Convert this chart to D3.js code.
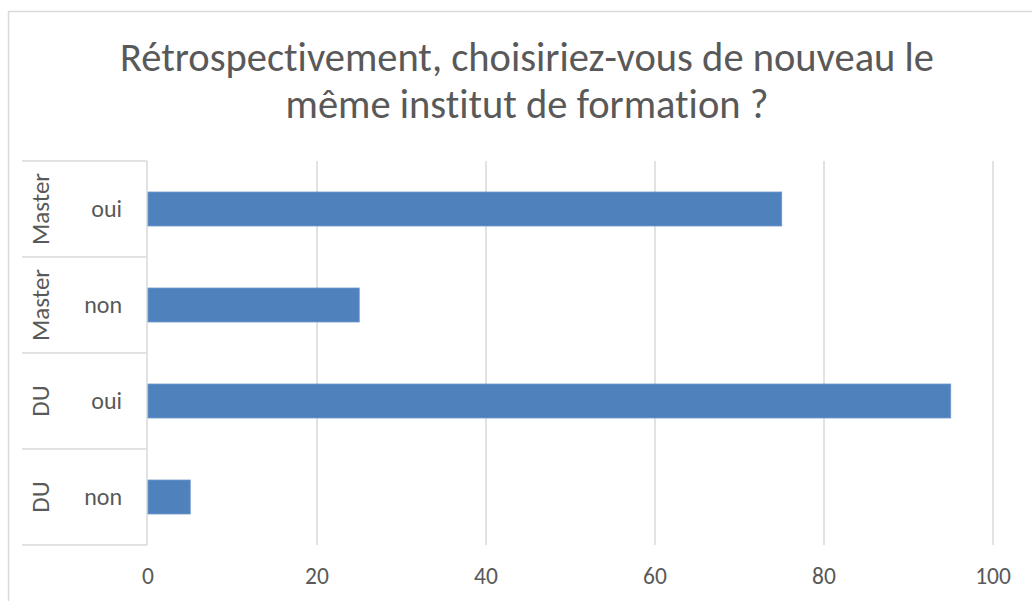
<!DOCTYPE html>
<html>
<head>
<meta charset="utf-8">
<script src="https://cdn.jsdelivr.net/npm/d3@7"></script>
<style>
  html, body { margin: 0; padding: 0; background: #fff; }
  svg { display: block; }
  text { font-family: Calibri, Carlito, Lato, "Open Sans", sans-serif; fill: #595959; font-variant-ligatures: none; }
</style>
</head>
<body>
<svg id="chart" width="1032" height="601"></svg>
<script>
const title = ["Rétrospectivement, choisiriez-vous de nouveau le", "même institut de formation ?"];
const groups = ["Master", "Master", "DU", "DU"];
const answers = ["oui", "non", "oui", "non"];
const values = [75, 25, 95, 5];
const xTicks = [0, 20, 40, 60, 80, 100];

const W = 1032, H = 601;
const margin = { top: 161, right: 39, bottom: 56, left: 148 };
const svg = d3.select("#chart");

// chart frame
svg.append("rect")
  .attr("x", 8.5).attr("y", 11.5)
  .attr("width", W + 20).attr("height", H + 20)
  .attr("fill", "#fff").attr("stroke", "#d9d9d9").attr("stroke-width", 1.5);

// title
svg.append("text")
  .attr("text-anchor", "middle")
  .attr("font-size", 40.5)
  .selectAll("tspan")
  .data(title)
  .join("tspan")
  .attr("x", 527)
  .attr("y", (d, i) => 71 + i * 47)
  .text((d) => d);

const x = d3.scaleLinear().domain([0, 100]).range([margin.left, W - margin.right]);
const idx = values.map((d, i) => i);
const y = d3.scaleBand()
  .domain(idx)
  .range([margin.top, H - margin.bottom])
  .paddingInner(0.646)
  .paddingOuter(0.323);

// vertical gridlines
svg.append("g")
  .selectAll("line")
  .data(xTicks.slice(1))
  .join("line")
  .attr("x1", (d) => x(d)).attr("x2", (d) => x(d))
  .attr("y1", margin.top).attr("y2", H - margin.bottom)
  .attr("stroke", "#d9d9d9").attr("stroke-width", 1.5);

// x tick labels
svg.append("g")
  .selectAll("text")
  .data(xTicks)
  .join("text")
  .attr("x", (d) => x(d))
  .attr("y", 584)
  .attr("text-anchor", "middle")
  .attr("font-size", 23.5)
  .text((d) => d);

// category axis: boundaries between bands
const step = y.step();
const bounds = idx.map((i) => y(i) - y.paddingOuter() * step).concat([H - margin.bottom]);
svg.append("g")
  .selectAll("line")
  .data(bounds)
  .join("line")
  .attr("x1", 22).attr("x2", margin.left - 1)
  .attr("y1", (d) => d).attr("y2", (d) => d)
  .attr("stroke", "#d9d9d9").attr("stroke-width", 1.5);

svg.append("line")
  .attr("x1", margin.left - 1).attr("x2", margin.left - 1)
  .attr("y1", margin.top).attr("y2", H - margin.bottom)
  .attr("stroke", "#d9d9d9").attr("stroke-width", 1.5);

// inner labels
svg.append("g")
  .selectAll("text")
  .data(idx)
  .join("text")
  .attr("x", 122)
  .attr("y", (i) => y(i) + y.bandwidth() / 2)
  .attr("dy", "0.35em")
  .attr("text-anchor", "end")
  .attr("font-size", 24)
  .text((i) => answers[i]);

// outer labels (rotated)
svg.append("g")
  .selectAll("text")
  .data(idx)
  .join("text")
  .attr("transform", (i) => `translate(49,${y(i) + y.bandwidth() / 2}) rotate(-90)`)
  .attr("text-anchor", "middle")
  .attr("font-size", 25)
  .text((i) => groups[i]);

// bars
svg.append("g")
  .selectAll("rect")
  .data(idx)
  .join("rect")
  .attr("x", x(0))
  .attr("y", (i) => y(i))
  .attr("width", (i) => x(values[i]) - x(0))
  .attr("height", y.bandwidth())
  .attr("fill", "#4f81bd")
  .attr("stroke", "#6d98cc")
  .attr("stroke-width", 0.8);
</script>
</body>
</html>
